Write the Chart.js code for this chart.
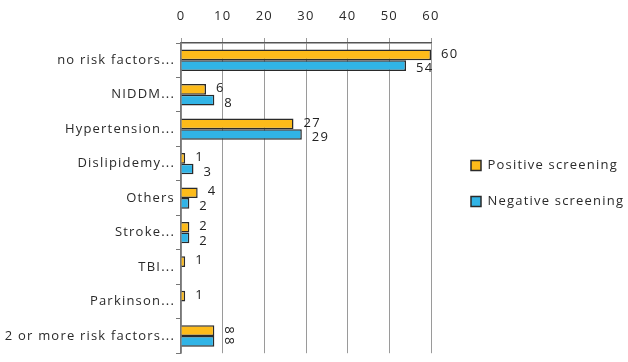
<!DOCTYPE html>
<html>
<head>
<meta charset="utf-8">
<script src="https://cdn.jsdelivr.net/npm/chart.js@4.4.0/dist/chart.umd.min.js"></script>
<style>
html, body { margin: 0; padding: 0; background: #fff; }
#wrap { width: 628px; height: 362px; }
</style>
</head>
<body>
<div id="wrap"><canvas id="riskChart"></canvas></div>
<script>
// risk factors vs screening result
const categories = [
    'no risk factors...', 'NIDDM...', 'Hypertension...', 'Dislipidemy...',
    'Others', 'Stroke...', 'TBI...', 'Parkinson...', '2 or more risk factors...'
];
const positiveScreening = [60, 6, 27, 1, 4, 2, 1, 1, 8];
const negativeScreening = [54, 8, 29, 3, 2, 2, null, null, 8];
const xTicks = [0, 10, 20, 30, 40, 50, 60];
// the last group has its value labels turned sideways in the original
const sidewaysLabels = ['2 or more risk factors...'];

const FONT = '"Open Sans", "DejaVu Sans", sans-serif';

// original text is spaced out a bit wider than plain Open Sans
const spacing = {
    id: 'spacing',
    beforeDraw(chart) {
        chart.ctx.letterSpacing = '1.2px';
    }
};

const valueLabels = {
    id: 'valueLabels',
    afterDatasetsDraw(chart) {
        const ctx = chart.ctx;
        ctx.save();
        ctx.font = '13px ' + FONT;
        ctx.fillStyle = '#222';
        chart.data.datasets.forEach((ds, di) => {
            chart.getDatasetMeta(di).data.forEach((bar, i) => {
                const v = ds.data[i];
                if (v == null) return;
                if (sidewaysLabels.includes(categories[i])) {
                    ctx.save();
                    ctx.translate(bar.x + 14, bar.y);
                    ctx.rotate(Math.PI / 2);
                    ctx.textAlign = 'center';
                    ctx.textBaseline = 'middle';
                    ctx.fillText(v, 0, 0);
                    ctx.restore();
                    return;
                }
                ctx.textAlign = 'left';
                ctx.textBaseline = 'middle';
                const dy = di === 0 ? -1 : 3;
                ctx.fillText(v, bar.x + 10, bar.y + dy);
            });
        });
        ctx.restore();
    }
};

const legendShift = {
    id: 'legendShift',
    beforeInit(chart) {
        const fit = chart.legend.fit;
        chart.legend.fit = function() {
            fit.call(this);
            this.width = 197;
        };
    },
    afterLayout(chart) {
        const lg = chart.legend;
        lg.left += 17;
        lg.right += 17;
        lg.top += 6;
        lg.bottom += 6;
    }
};

new Chart(document.getElementById('riskChart').getContext('2d'), {
    type: 'bar',
    data: {
        labels: categories,
        datasets: [{
            label: 'Positive screening',
            data: positiveScreening,
            backgroundColor: '#FDBB1A',
            borderColor: '#2a2a2a',
            borderWidth: 1.5,
            barPercentage: 1,
            categoryPercentage: 0.62
        }, {
            label: 'Negative screening',
            data: negativeScreening,
            backgroundColor: '#31B4E6',
            borderColor: '#2a2a2a',
            borderWidth: 1.5,
            barPercentage: 1,
            categoryPercentage: 0.62
        }]
    },
    options: {
        indexAxis: 'y',
        responsive: true,
        maintainAspectRatio: false,
        animation: false,
        layout: { padding: { top: 0, bottom: 7, left: 0, right: 0 } },
        plugins: {
            tooltip: { enabled: false },
            legend: {
                position: 'right',
                labels: {
                    font: { family: FONT, size: 13 },
                    color: '#2a2a2a',
                    boxWidth: 10,
                    boxHeight: 10,
                    padding: 23
                }
            }
        },
        scales: {
            x: {
                position: 'top',
                min: xTicks[0],
                max: xTicks[xTicks.length - 1],
                afterFit: s => { s.height = 43; },
                ticks: {
                    stepSize: 10,
                    padding: 14,
                    color: '#2a2a2a',
                    font: { family: FONT, size: 13 }
                },
                grid: { color: '#9a9a9a', lineWidth: 1, tickLength: 5 },
                border: { color: '#555', width: 1.5 }
            },
            y: {
                afterFit: s => { s.width = 181; },
                ticks: {
                    padding: 1,
                    color: '#2a2a2a',
                    font: { family: FONT, size: 13 }
                },
                grid: { drawOnChartArea: false, color: '#777', tickLength: 5 },
                border: { color: '#777', width: 1.5 }
            }
        }
    },
    plugins: [spacing, valueLabels, legendShift]
});
</script>
</body>
</html>
